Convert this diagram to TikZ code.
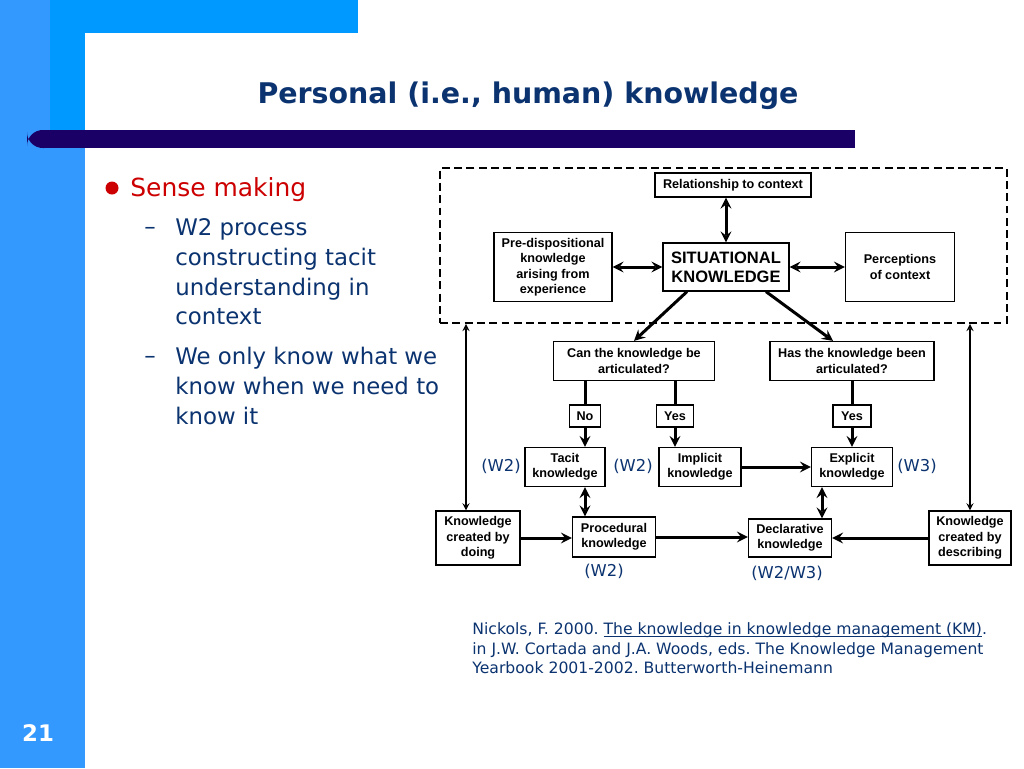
\documentclass[tikz,border=0pt]{standalone}
\usepackage{fontspec}
\setmainfont{DejaVu Sans}
\newfontfamily\diagfont{Liberation Sans}
\usetikzlibrary{shapes,arrows,positioning,calc}

\definecolor{stripblue}{HTML}{3399FF}
\definecolor{topblue}{HTML}{0099FF}
\definecolor{barnavy}{HTML}{1A0066}
\definecolor{textnavy}{HTML}{0B3370}
\definecolor{bulletred}{HTML}{CC0000}

% underline close to the baseline
\newcommand{\refunder}[1]{\setbox0\hbox{#1}\rlap{\rule[-1.6pt]{\wd0}{0.5pt}}\box0}

\begin{document}
\frenchspacing
\begin{tikzpicture}[x=0.02cm, y=-0.02cm, every node/.style={align=center}]
        % slide styles
        \tikzstyle{box} = [rectangle, draw=black, fill=white, line width=0.7pt, inner sep=0pt, font=\diagfont\bfseries\fontsize{7.2}{8.8}\selectfont]
        \tikzstyle{slidetext} = [inner sep=0pt, text=textnavy, align=left]
        \tikzstyle{wlabel} = [inner sep=0pt, text=textnavy, font=\fontsize{9.3}{11}\selectfont]
        \tikzstyle{arrow} = [line width=1.7pt, ->, >=stealth]
        \tikzstyle{dblarrow} = [line width=1.7pt, <->, >=stealth]
        \tikzstyle{thinarrow} = [line width=0.8pt, <->, >=stealth]
        \tikzstyle{stem} = [line width=1.7pt]

        \useasboundingbox (0,0) rectangle (1024,768);

        % background
        \fill[white] (0,0) rectangle (1024,768);
        \fill[stripblue] (0,0) rectangle (85,768);
        \fill[topblue] (50,0) rectangle (358,33);
        \fill[topblue] (50,0) rectangle (85,130);
        \fill[white, rounded corners=16] (85,33) rectangle (400,160);
        \fill[white] (85,60) rectangle (120,768);
        \fill[barnavy, rounded corners=9] (27,130) rectangle (60,148);
        \fill[barnavy] (40,130) rectangle (855,148);

        % title and page number
        \node (title) at (528,96) [text=textnavy, font=\bfseries\fontsize{16.2}{19}\selectfont] {Personal (i.e., human) knowledge};
        \node (pageno) at (38,733) [text=white, font=\bfseries\fontsize{13}{15}\selectfont] {21};

        % bullets
        \fill[bulletred] (112,188) circle (6.5);
        \node (sense) at (130,190) [anchor=west, inner sep=0pt, text=bulletred, font=\fontsize{14.2}{17}\selectfont] {Sense making};
        \node (dash1) at (150,231) [slidetext, font=\fontsize{13}{17}\selectfont] {--};
        \node (item1) at (175,218) [slidetext, anchor=north west, font=\fontsize{13}{17}\selectfont] {W2 process\\constructing tacit\\understanding in\\context};
        \node (dash2) at (150,360) [slidetext, font=\fontsize{13}{17}\selectfont] {--};
        \node (item2) at (175,347) [slidetext, anchor=north west, font=\fontsize{13}{17}\selectfont] {We only know what we\\know when we need to\\know it};

        % situational context
        \node (ctx) at (723.5,245.5) [rectangle, draw=black, dash pattern=on 4.5pt off 2.5pt, line width=1.1pt, minimum width=11.34cm, minimum height=3.1cm] {};
        \node (rel) at (733,185) [box, minimum width=3.12cm, minimum height=0.48cm] {Relationship to context};
        \node (sit) at (726,267) [box, minimum width=2.52cm, minimum height=0.96cm, font=\diagfont\bfseries\fontsize{9.4}{11}\selectfont] {SITUATIONAL\\KNOWLEDGE};
        \node (pre) at (553,267) [box, minimum width=2.36cm, minimum height=1.38cm] {Pre-dispositional\\knowledge\\arising from\\experience};
        \node (perc) at (900,267) [box, minimum width=2.18cm, minimum height=1.38cm] {Perceptions\\of context};

        % questions
        \node (can) at (634,361) [box, minimum width=3.22cm, minimum height=0.78cm] {Can the knowledge be\\articulated?};
        \node (has) at (852,361) [box, minimum width=3.28cm, minimum height=0.78cm] {Has the knowledge been\\articulated?};
        \node (no) at (585,416) [box, minimum width=0.62cm, minimum height=0.44cm] {No};
        \node (yesa) at (675,416) [box, minimum width=0.74cm, minimum height=0.44cm] {Yes};
        \node (yesb) at (852,416) [box, minimum width=0.76cm, minimum height=0.44cm] {Yes};

        % kinds of knowledge
        \node (tacit) at (565,467) [box, minimum width=1.6cm, minimum height=0.78cm] {Tacit\\knowledge};
        \node (impl) at (700,467) [box, minimum width=1.64cm, minimum height=0.78cm] {Implicit\\knowledge};
        \node (expl) at (852,467) [box, minimum width=1.62cm, minimum height=0.78cm] {Explicit\\knowledge};
        \node (doing) at (478,538) [box, minimum width=1.68cm, minimum height=1.08cm] {Knowledge\\created by\\doing};
        \node (proc) at (614,537) [box, minimum width=1.66cm, minimum height=0.8cm] {Procedural\\knowledge};
        \node (decl) at (790,538) [box, minimum width=1.66cm, minimum height=0.76cm] {Declarative\\knowledge};
        \node (desc) at (970,538) [box, minimum width=1.64cm, minimum height=1.08cm] {Knowledge\\created by\\describing};

        % world labels
        \node (wtacit) at (501,466) [wlabel] {(W2)};
        \node (wimpl) at (633,466) [wlabel] {(W2)};
        \node (wexpl) at (917,466) [wlabel] {(W3)};
        \node (wproc) at (604,571) [wlabel] {(W2)};
        \node (wdecl) at (787,573) [wlabel] {(W2/W3)};

        % reference
        \node (ref) at (472,622) [slidetext, anchor=north west, font=\fontsize{8.9}{11.3}\selectfont] {Nickols, F. 2000. \refunder{The knowledge in knowledge management (KM)}.\\in J.W. Cortada and J.A. Woods, eds. The Knowledge Management\\Yearbook 2001-2002. Butterworth-Heinemann};

        % connectors
        \draw [dblarrow] (sit.north) -- (sit.north |- rel.south);
        \draw [dblarrow] (pre.east) -- (sit.west);
        \draw [dblarrow] (sit.east) -- (perc.west);
        \draw [arrow] ([xshift=-0.78cm]sit.south) -- (can.north);
        \draw [arrow] ([xshift=0.8cm]sit.south) -- ([xshift=-0.38cm]has.north);
        \draw [stem] (can.south -| no) -- (no.north);
        \draw [stem] (can.south -| yesa) -- (yesa.north);
        \draw [stem] (has.south) -- (yesb.north);
        \draw [arrow] (no.south) -- (no.south |- tacit.north);
        \draw [arrow] (yesa.south) -- (yesa.south |- impl.north);
        \draw [arrow] (yesb.south) -- (expl.north);
        \draw [arrow] (impl.east) -- (expl.west);
        \draw [dblarrow] (no |- tacit.south) -- (no |- proc.north);
        \draw [dblarrow] ([xshift=-0.6cm]expl.south) -- ([xshift=-0.6cm]expl.south |- decl.north);
        \draw [arrow] (doing.east) -- (doing.east -| proc.west);
        \draw [arrow] (proc.east) -- (proc.east -| decl.west);
        \draw [arrow] (desc.west) -- (desc.west -| decl.east);
        \draw [thinarrow] ([xshift=-0.24cm]doing.north) -- ([xshift=-0.24cm]doing.north |- ctx.south);
        \draw [thinarrow] (desc.north) -- (desc.north |- ctx.south);
    \end{tikzpicture}
\end{document}
